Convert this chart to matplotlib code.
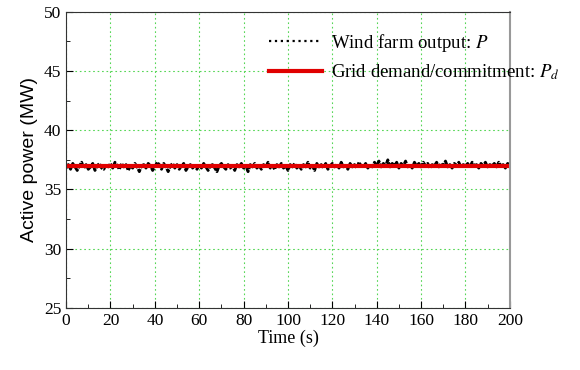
import numpy as np
import matplotlib.pyplot as plt
from matplotlib.ticker import MultipleLocator

# ========== data ==========
t = np.arange(0, 201, 1)
P_wind = [
    36.8, 37.1, 36.7, 37.2, 36.9, 36.6, 37.0, 37.3, 36.8, 37.1, 36.7, 36.9, 37.2, 36.6, 37.0, 37.2, 36.8, 36.7, 37.1, 36.9,
    37.2, 36.8, 37.3, 37.0, 36.7, 37.2, 36.9, 37.1, 36.6, 37.0, 36.8, 37.2, 36.9, 36.5, 37.0, 37.1, 36.8, 37.2, 37.0, 36.6,
    36.9, 37.3, 37.1, 36.7, 37.2, 36.9, 36.5, 37.0, 37.2, 36.8, 37.1, 36.7, 37.0, 37.2, 36.6, 36.9, 37.1, 36.8, 37.0, 36.7,
    37.1, 36.8, 37.2, 36.9, 36.6, 37.0, 37.1, 36.8, 36.5, 37.0, 37.2, 36.9, 36.7, 37.1, 36.8, 37.0, 36.6, 37.1, 36.9, 37.2,
    36.8, 37.0, 36.5, 37.1, 36.9, 37.2, 36.8, 37.0, 36.7, 37.1, 36.9, 37.3, 36.8, 37.0, 36.7, 37.1, 36.9, 37.2, 36.8, 37.0,
    36.6, 37.1, 36.9, 37.2, 36.8, 37.0, 36.7, 37.1, 36.9, 37.3, 36.8, 37.0, 36.6, 37.2, 36.9, 37.1, 36.8, 37.2, 36.7, 37.0,
    37.2, 36.9, 37.1, 36.8, 37.3, 36.9, 37.0, 36.7, 37.2, 36.9, 37.1, 36.8, 37.3, 37.0, 36.9, 37.2, 36.8, 37.1, 36.9, 37.3,
    37.0, 37.4, 36.9, 37.2, 37.0, 37.5, 36.9, 37.2, 37.0, 37.3, 36.8, 37.2, 37.0, 37.4, 36.9, 37.1, 36.8, 37.3, 37.0, 37.2,
    36.9, 37.3, 37.0, 37.2, 36.8, 37.1, 37.0, 37.3, 36.9, 37.2, 37.0, 37.4, 36.9, 37.1, 36.8, 37.2, 37.0, 37.3, 36.9, 37.1,
    37.0, 37.2, 36.9, 37.3, 37.0, 37.1, 36.8, 37.2, 37.0, 37.3, 36.9, 37.1, 37.0, 37.2, 36.9, 37.3, 37.0, 37.1, 36.8, 37.2, 37.1,
]
P_demand = 37.0

# ========== plot ==========
plt.rcParams['font.family'] = ['Liberation Serif', 'DejaVu Serif']
plt.rcParams['mathtext.fontset'] = 'stix'

fig = plt.figure(figsize=(5.8, 3.7), dpi=100)
ax = fig.add_axes([0.114, 0.168, 0.765, 0.80])

# wind output: dotted trace, so dense it reads as a band
ax.plot(t, P_wind, linestyle=(0, (2.0, 0.4)), color='black', linewidth=2.0,
        label=r'Wind farm output: $P$')
ax.plot([t[0], t[-1]], [P_demand, P_demand], '-', color='#e00000', linewidth=3,
        label=r'Grid demand/commitment: $P_d$')

ax.set_xlim(0, 200)
ax.set_ylim(25, 50)
ax.xaxis.set_major_locator(MultipleLocator(20))
ax.xaxis.set_minor_locator(MultipleLocator(10))
ax.yaxis.set_major_locator(MultipleLocator(5))
ax.yaxis.set_minor_locator(MultipleLocator(2.5))
ax.tick_params(which='both', direction='in', top=False, right=False, labelsize=12.5)
ax.tick_params(which='major', length=5)
ax.tick_params(which='minor', length=3)
ax.grid(True, which='major', color='#55d655', linestyle=(0, (1.5, 2.5)), linewidth=0.8)

for s in ['left', 'bottom', 'top']:
    ax.spines[s].set_color('#333333')
ax.spines['right'].set_color('#999999')
ax.spines['right'].set_linewidth(1.5)

ax.set_xlabel('Time (s)', fontsize=13, labelpad=1)
ax.set_ylabel('Active power (MW)', fontsize=14, family='Liberation Sans', labelpad=4)

leg = ax.legend(loc='upper left', bbox_to_anchor=(0.435, 0.96), bbox_transform=fig.transFigure,
                frameon=False, fontsize=13.5, handlelength=2.8, handletextpad=0.5, labelspacing=0.45)
leg.get_lines()[0].set_linestyle(':')
leg.get_lines()[0].set_linewidth(1.6)

fig.savefig('out.png', dpi=100)
